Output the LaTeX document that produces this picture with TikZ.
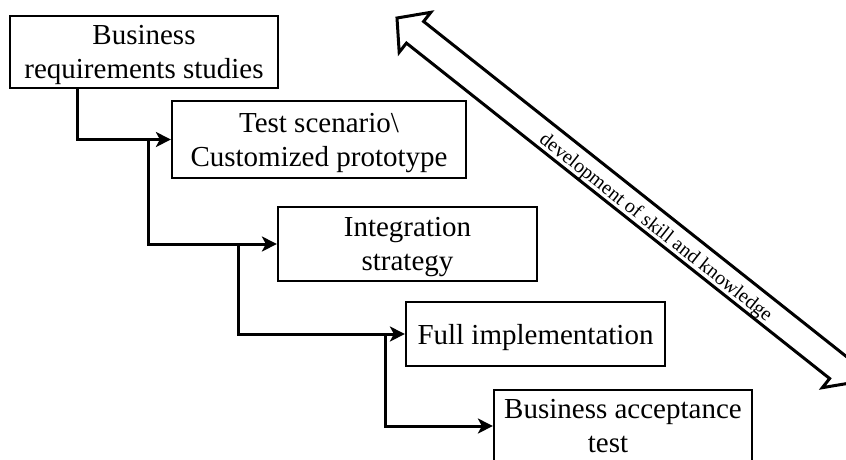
\documentclass[tikz,border=0pt]{standalone}
\usepackage{fontspec}
\setmainfont{Liberation Serif}
\usetikzlibrary{arrows.meta}

\begin{document}
\begin{tikzpicture}[x=1pt, y=-1pt,
  stage/.style={draw, line width=2.2pt, inner sep=0pt, align=center,
    text depth=0pt, font=\fontsize{29}{34}\selectfont},
  link/.style={line width=3pt, -{Stealth[length=15pt, width=15pt, inset=4pt]}},
  bigarrow/.style={draw, line width=3pt, fill=white, line join=miter}]

\useasboundingbox (0,0) rectangle (846,459);

% process stages
\node[stage, minimum width=268pt, minimum height=72pt] (b1) at (144,52)
  {Business\\requirements studies};
\node[stage, minimum width=294pt, minimum height=77pt] (b2) at (319,139.5)
  {Test scenario\textbackslash\\Customized prototype};
\node[stage, minimum width=259pt, minimum height=74pt] (b3) at (407.5,244)
  {Integration\\strategy};
\node[stage, minimum width=259pt, minimum height=64pt] (b4) at (535.5,334)
  {Full implementation};
\node[stage, minimum width=258pt, minimum height=72pt] (b5) at (623,426)
  {Business acceptance\\test\hspace*{30pt}};

% branch points on the connectors
\coordinate (s1) at (77,88);
\coordinate (j2) at (148,0);
\coordinate (j3) at (238,0);
\coordinate (j4) at (385,0);

% step connectors
\draw[link] (s1) |- (b2.west);
\draw[link] (j2 |- b2.west) |- (b3.west);
\draw[link] (j3 |- b3.west) |- (b4.west);
\draw[link] (j4 |- b4.west) |- (b5.west);

% double-headed arrow with its label
\begin{scope}[shift={(397pt,-18pt)}, rotate=-38.4, x=1pt, y=1pt]
  \path[bigarrow] (0,0) -- (23,25.5) -- (23,13.8) -- (563,13.8) -- (563,25.5)
    -- (586,0) -- (563,-25.5) -- (563,-13.8) -- (23,-13.8) -- (23,-25.5) -- cycle;
  \node[rotate=-38.4, anchor=base, inner sep=0pt,
    font=\fontsize{20}{24}\selectfont] (lbl) at (333,-9)
    {development of skill and knowledge};
\end{scope}
\end{tikzpicture}
\end{document}
